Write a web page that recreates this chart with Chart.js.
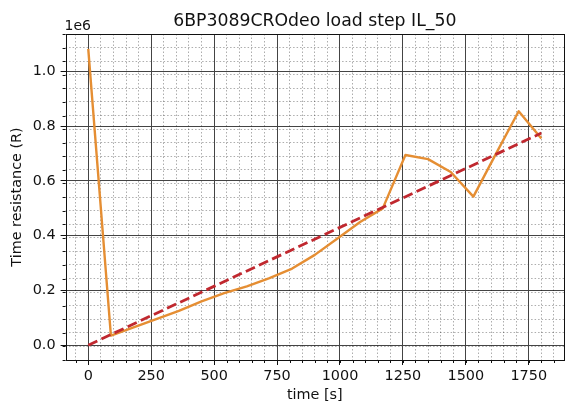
<!DOCTYPE html>
<html>
<head>
<meta charset="utf-8">
<script src="https://cdn.jsdelivr.net/npm/chart.js@4/dist/chart.umd.min.js"></script>
<style>
  html, body { margin: 0; padding: 0; background: #fff; }
  #wrap { width: 567px; height: 408px; }
</style>
</head>
<body>
<div id="wrap"><canvas id="chart" width="567" height="408"></canvas></div>
<script>
// measured series (time in s, resistance in R)
const times = [0, 90, 180, 270, 360, 450, 540, 630, 720, 810, 900, 990, 1080, 1170, 1260, 1350, 1440, 1530, 1620, 1710, 1800];
const resistance = [1083000, 35000, 65000, 95000, 125000, 160000, 190000, 215000, 245000, 280000, 330000, 390000, 450000, 500000, 695000, 680000, 633000, 543000, 700000, 855000, 755000];

// linear trend line (dashed)
const trendTimes = [0, 1800];
const trendValues = [0, 775000];

const xTicks = [0, 250, 500, 750, 1000, 1250, 1500, 1750];
const yTicks = [0, 200000, 400000, 600000, 800000, 1000000];

const FONT = "'DejaVu Sans', sans-serif";
const titleText = "6BP3089CROdeo load step IL_50";

// matplotlib-style 5% margins
const xMin = -90, xMax = 1890;
const yMin = -54150, yMax = 1137150;

function toPoints(xs, ys) {
    return xs.map((x, i) => ({ x: x, y: ys[i] }));
}

// title, "1e6" offset label, frame and minor tick marks
const decorPlugin = {
    id: 'decor',
    afterDraw(chart) {
        const ctx = chart.ctx;
        const a = chart.chartArea;
        ctx.save();
        ctx.fillStyle = '#111';
        ctx.font = "17.3px " + FONT;
        ctx.textAlign = 'center';
        ctx.textBaseline = 'alphabetic';
        ctx.fillText(titleText, (a.left + a.right) / 2, 26);

        ctx.font = "14px " + FONT;
        ctx.textAlign = 'left';
        ctx.fillText('1e6', a.left - 1, a.top - 4);

        ctx.strokeStyle = '#111';
        ctx.lineWidth = 1;
        ctx.strokeRect(Math.round(a.left) + 0.5, Math.round(a.top) + 0.5,
            Math.round(a.right - a.left), Math.round(a.bottom - a.top));

        // minor ticks
        const xm = chart.scales.xMinor, ym = chart.scales.yMinor;
        ctx.beginPath();
        xm.ticks.forEach(t => {
            const px = Math.round(xm.getPixelForValue(t.value)) + 0.5;
            ctx.moveTo(px, a.bottom);
            ctx.lineTo(px, a.bottom + 3);
        });
        ym.ticks.forEach(t => {
            const py = Math.round(ym.getPixelForValue(t.value)) + 0.5;
            ctx.moveTo(a.left, py);
            ctx.lineTo(a.left - 3, py);
        });
        ctx.stroke();
        ctx.restore();
    }
};

new Chart(document.getElementById('chart').getContext('2d'), {
    type: 'line',
    data: {
        datasets: [{
            label: 'resistance',
            data: toPoints(times, resistance),
            borderColor: '#e58e33',
            borderWidth: 2.4,
            pointRadius: 0,
            tension: 0,
            borderJoinStyle: 'round',
            order: 1
        }, {
            label: 'trend',
            data: toPoints(trendTimes, trendValues),
            borderColor: '#c0282f',
            borderWidth: 2.8,
            borderDash: [10, 4.5],
            pointRadius: 0,
            tension: 0,
            order: 0
        }]
    },
    plugins: [decorPlugin],
    options: {
        responsive: false,
        animation: false,
        layout: { padding: { top: 34, right: 3, left: 0, bottom: 0 } },
        plugins: { legend: { display: false }, title: { display: false }, tooltip: { enabled: false } },
        scales: {
            x: {
                type: 'linear', position: 'bottom', min: xMin, max: xMax,
                afterFit: s => { s.height = 48; },
                afterBuildTicks: s => { s.ticks = xTicks.map(v => ({ value: v })); },
                ticks: { color: '#111', font: { family: FONT, size: 14.4 }, padding: 3, autoSkip: false, maxRotation: 0, callback: v => String(v) },
                grid: { color: '#444', lineWidth: 1, tickLength: 5, tickColor: '#111', z: 0 },
                border: { display: false },
                title: { display: true, text: 'time [s]', color: '#111', font: { family: FONT, size: 14.4 }, padding: { top: 0, bottom: 4 } }
            },
            y: {
                type: 'linear', position: 'left', min: yMin, max: yMax,
                afterFit: s => { s.width = 65.6; },
                afterBuildTicks: s => { s.ticks = yTicks.map(v => ({ value: v })); },
                ticks: { color: '#111', font: { family: FONT, size: 14.4 }, padding: 5, callback: v => (v / 1e6).toFixed(1) },
                grid: { color: '#444', lineWidth: 1, tickLength: 5, tickColor: '#111' },
                border: { display: false },
                title: { display: true, text: 'Time resistance (R)', color: '#111', font: { family: FONT, size: 14.4 }, padding: { top: 9, bottom: 0 } }
            },
            xMinor: {
                type: 'linear', position: 'top', min: xMin, max: xMax,
                afterFit: s => { s.height = 0; },
                ticks: { display: false, stepSize: 50, includeBounds: false },
                grid: { color: 'rgba(0,0,0,0.32)', lineWidth: 1, drawTicks: false },
                border: { display: false, dash: [1.5, 2] }
            },
            yMinor: {
                type: 'linear', position: 'right', min: yMin, max: yMax,
                afterFit: s => { s.width = 0; },
                ticks: { display: false, stepSize: 50000, includeBounds: false },
                grid: { color: 'rgba(0,0,0,0.32)', lineWidth: 1, drawTicks: false },
                border: { display: false, dash: [1.5, 2] }
            }
        }
    }
});
</script>
</body>
</html>
